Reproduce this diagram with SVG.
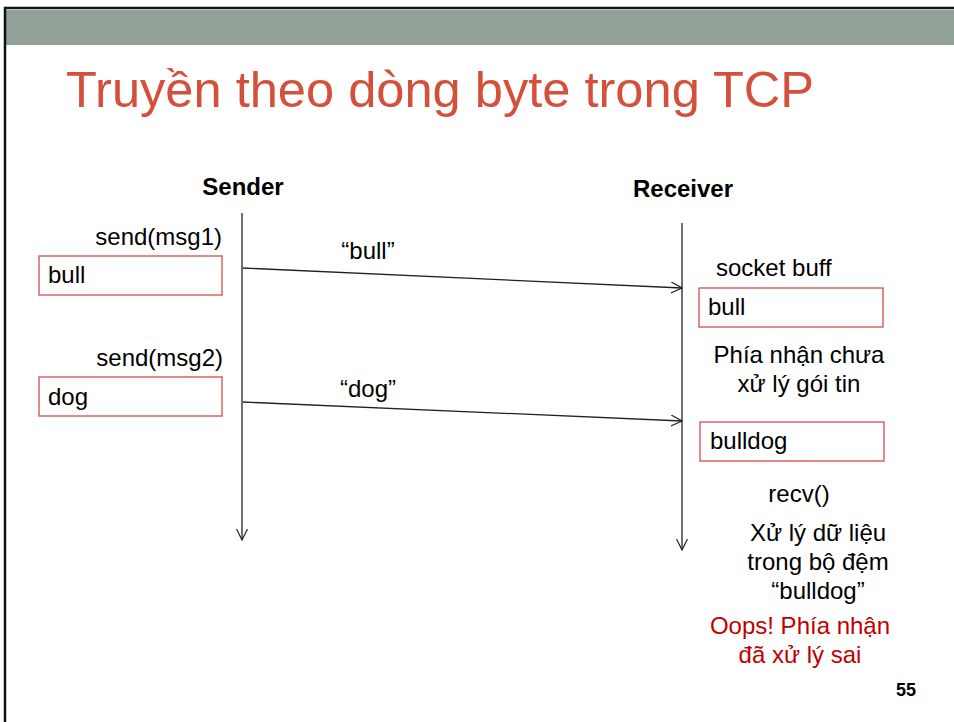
<svg xmlns="http://www.w3.org/2000/svg" width="954" height="722" viewBox="0 0 954 722">
<style>
text{font-family:"Liberation Sans",Arial,sans-serif;font-size:24px;fill:#000}
.b{font-weight:bold}
.m{text-anchor:middle}
.e{text-anchor:end}
.red{fill:#C00000}
.box{fill:#fff;stroke:#D94A4A;stroke-width:1.3}
.ln{stroke:#222;stroke-width:1.3;fill:none}
</style>
<defs>
<marker id="ah" viewBox="0 0 12 12" refX="11" refY="6" markerWidth="12" markerHeight="12" markerUnits="userSpaceOnUse" orient="auto">
<path d="M0,0.5 L11,6 L0,11.5" fill="none" stroke="#222" stroke-width="1.2"/>
</marker>
</defs>
<rect x="0" y="0" width="954" height="722" fill="#fff"/>
<rect x="6" y="10" width="948" height="35" fill="#92A197"/>
<path d="M5,722 V8 H954" fill="none" stroke="#111" stroke-width="2.5"/>
<text x="66" y="107" style="font-size:50.6px;fill:#D4503A">Truyền theo dòng byte trong TCP</text>

<g id="sender">
<text class="b m" x="243" y="195">Sender</text>
</g>
<g id="receiver">
<text class="b m" x="683" y="197">Receiver</text>
</g>

<g id="connectors">
<line class="ln" x1="242" y1="213" x2="242" y2="540" marker-end="url(#ah)"/>
<line class="ln" x1="682" y1="223" x2="682" y2="550" marker-end="url(#ah)"/>
<line class="ln" x1="243" y1="268" x2="682" y2="288" marker-end="url(#ah)"/>
<line class="ln" x1="243" y1="402" x2="682" y2="421" marker-end="url(#ah)"/>
<text class="m" x="368" y="259">“bull”</text>
<text class="m" x="368" y="397">“dog”</text>
</g>

<g id="msg1">
<text class="e" x="222" y="245">send(msg1)</text>
<rect class="box" x="39" y="256" width="183" height="39"/>
<text x="48" y="283">bull</text>
</g>
<g id="msg2">
<text class="e" x="223" y="366">send(msg2)</text>
<rect class="box" x="39" y="377" width="183" height="39"/>
<text x="48" y="405">dog</text>
</g>

<g id="buff1">
<text x="716" y="276">socket buff</text>
<rect class="box" x="699" y="288" width="184" height="39"/>
<text x="708" y="315">bull</text>
</g>
<g id="note1">
<text class="m" x="799" y="363">Phía nhận chưa</text>
<text class="m" x="799" y="392">xử lý gói tin</text>
</g>
<g id="buff2">
<rect class="box" x="700" y="422" width="184" height="39"/>
<text x="710" y="449">bulldog</text>
</g>
<g id="recv">
<text class="m" x="799" y="502">recv()</text>
<text class="m" x="818" y="541">Xử lý dữ liệu</text>
<text class="m" x="818" y="570">trong bộ đệm</text>
<text class="m" x="818" y="599">“bulldog”</text>
</g>
<g id="oops">
<text class="m red" x="800" y="634">Oops! Phía nhận</text>
<text class="m red" x="800" y="663">đã xử lý sai</text>
</g>
<text class="b m" x="906" y="696" style="font-size:18px">55</text>
</svg>
